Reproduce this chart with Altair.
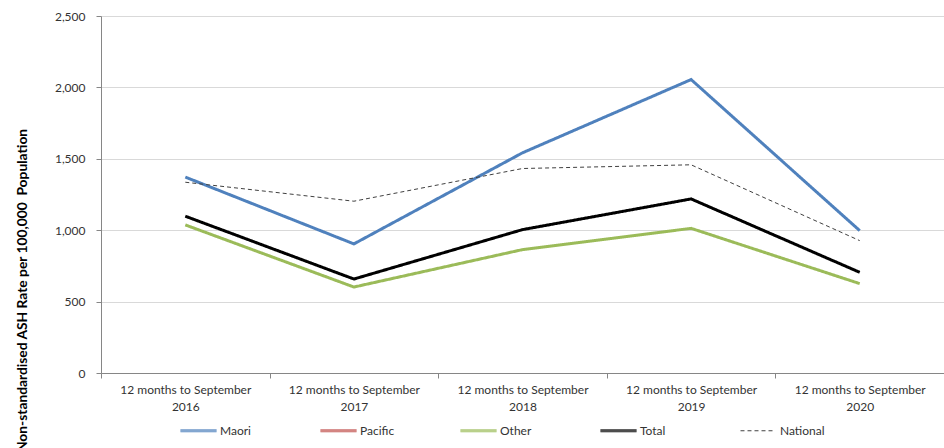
import altair as alt
import pandas as pd

# Ambulatory sensitive hospitalisation rates by ethnicity
periods = [
    "12 months to September 2016",
    "12 months to September 2017",
    "12 months to September 2018",
    "12 months to September 2019",
    "12 months to September 2020",
]
maori = [1372, 904, 1542, 2055, 997]
other = [1037, 602, 864, 1013, 626]
total = [1098, 658, 1004, 1219, 705]
national = [1336, 1203, 1432, 1458, 927]

series_names = ["Maori", "Pacific", "Other", "Total", "National"]
series_colors = ["#4F81BD", "#C0504D", "#9BBB59", "#000000", "#404040"]
series_dash = [[1, 0], [1, 0], [1, 0], [1, 0], [4, 3]]

rows = []
for name, vals in [("Maori", maori), ("Other", other), ("Total", total), ("National", national)]:
    for p, v in zip(periods, vals):
        rows.append({"period": p, "series": name, "rate": v})
df = pd.DataFrame(rows)

FONT = "Lato"
Y_TITLE = "Non-standardised ASH Rate per 100,000\u00a0 Population"

# Legend swatches in unit symbol space: a 3px band for solid series,
# five short thin dashes for the national benchmark.
SOLID_SWATCH = "M-1,-0.0556H1M-1,0H1M-1,0.0556H1"
DASH_SWATCH = "M-1,0H-0.778M-0.611,0H-0.389M-0.222,0H0M0.167,0H0.389M0.556,0H0.778"

chart = (
    alt.Chart(df)
    .mark_line()
    .encode(
        x=alt.X(
            "period:N",
            sort=periods,
            scale=alt.Scale(domain=periods, paddingInner=0, paddingOuter=0.0),
            axis=alt.Axis(
                title=None,
                labelAngle=0,
                labelExpr="[substring(datum.label, 0, 22), substring(datum.label, 23)]",
                labelFontSize=12,
                labelLineHeight=17,
                labelColor="#333333",
                labelPadding=6,
                tickBand="extent",
                tickSize=5,
                tickColor="#868686",
                domainColor="#868686",
                grid=False,
            ),
        ),
        y=alt.Y(
            "rate:Q",
            scale=alt.Scale(domain=[0, 2500], nice=False),
            axis=alt.Axis(
                title=Y_TITLE,
                titleFontSize=13.8,
                titleFontWeight="bold",
                titleColor="#000000",
                titleAngle=270,
                titleAlign="center",
                titleBaseline="middle",
                titleX=-79,
                titleY=274,
                values=[0, 500, 1000, 1500, 2000, 2500],
                format=",d",
                labelFontSize=12,
                labelColor="#333333",
                labelPadding=11,
                tickSize=5,
                tickColor="#868686",
                domainColor="#868686",
                gridColor="#D9D9D9",
                gridWidth=1,
            ),
        ),
        color=alt.Color(
            "series:N",
            scale=alt.Scale(domain=series_names, range=series_colors),
            legend=alt.Legend(
                title=None,
                orient="none",
                direction="horizontal",
                columns=5,
                legendX=79,
                legendY=396,
                symbolType=alt.ExprRef(
                    expr=f"datum.value === 'National' ? '{DASH_SWATCH}' : '{SOLID_SWATCH}'"
                ),
                symbolSize=1296,
                symbolStrokeWidth=1,
                labelFontSize=12,
                labelColor="#333333",
                labelOffset=3,
                gridAlign="all",
                columnPadding=53,
                padding=0,
            ),
        ),
        strokeDash=alt.StrokeDash(
            "series:N",
            scale=alt.Scale(domain=series_names, range=series_dash),
            legend=None,
        ),
        # thin dashed national benchmark, heavier lines for the ethnic groups
        strokeWidth=alt.condition("datum.series === 'National'", alt.value(1), alt.value(3)),
        order=alt.Order("period:N"),
    )
    .properties(
        width=843,
        height=357,
        autosize=alt.AutoSizeParams(type="none"),
        padding={"left": 101, "top": 16, "right": 0, "bottom": 75},
    )
    .configure(font=FONT)
    .configure_view(stroke=None)
)

chart.save("out.html", embed_options={"renderer": "svg", "actions": False})
